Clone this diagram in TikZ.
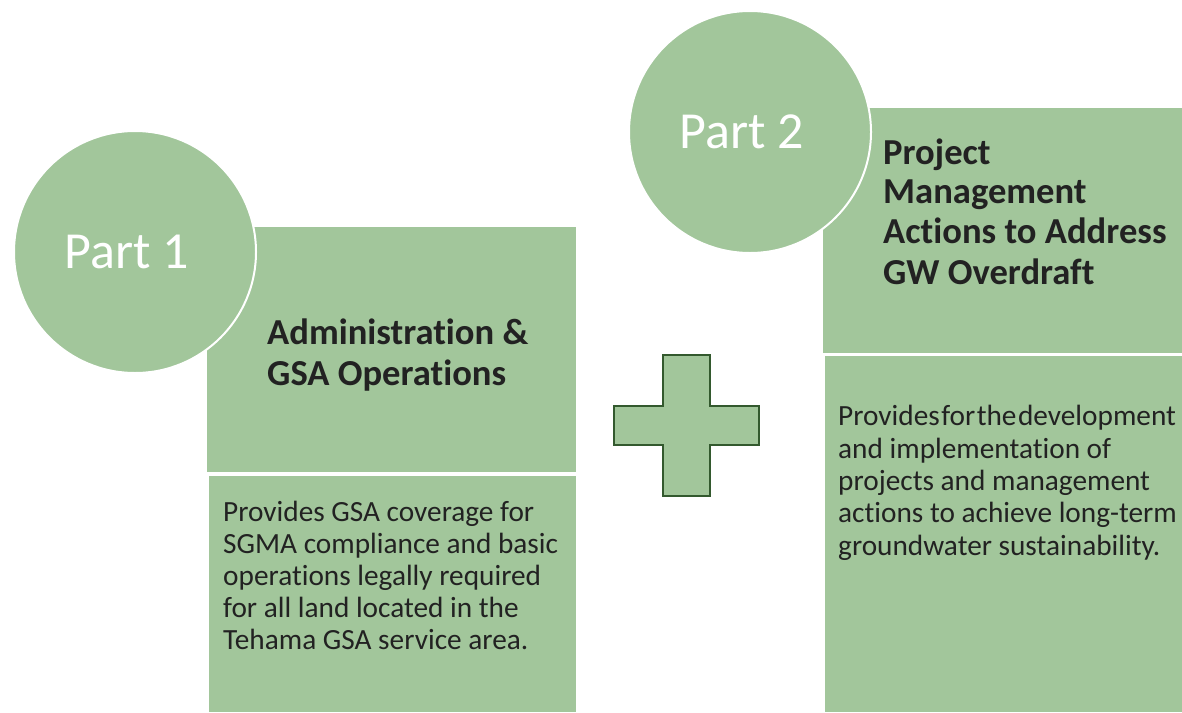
\documentclass[tikz,border=0pt]{standalone}
\usepackage{fontspec}
\setmainfont{Carlito}[Ligatures={NoCommon,NoContextual},Contextuals=NoAlternate]
\definecolor{leaf}{HTML}{A2C69B}
\definecolor{leafdark}{HTML}{33592E}
\definecolor{inktext}{HTML}{222222}
\begin{document}
\begin{tikzpicture}[x=1pt,y=-1pt,
  panel/.style={fill=leaf,draw=none},
  partcircle/.style={circle,fill=leaf,draw=white,line width=2pt,minimum size=242pt,inner sep=0pt},
  partlabel/.style={text=white,inner sep=0pt,font=\fontsize{52}{62}\selectfont},
  headline/.style={anchor=base west,inner sep=0pt,text=inktext,font=\fontsize{36.6}{40}\selectfont\bfseries},
  bodyline/.style={anchor=base west,inner sep=0pt,text=inktext,font=\fontsize{29.3}{32}\selectfont}]
\useasboundingbox (0,0) rectangle (1182,712);
% left panels
\path[panel] (207,227) rectangle (576,472);
\path[panel] (209,476) rectangle (576,712);
% right panels
\path[panel] (823,108) rectangle (1182,353);
\path[panel] (825,356) rectangle (1182,712);
% circles
\node[partcircle] (p1) at (135,252) {};
\node[partlabel] (p1t) at (127,252) {Part 1};
\node[partcircle] (p2) at (750,132) {};
\node[partlabel] (p2t) at (742,132) {Part 2};
% plus
\filldraw[fill=leaf,draw=leafdark,line width=2.5pt,line join=miter]
  (663,355) -- (710,355) -- (710,406) -- (759,406) -- (759,445) -- (710,445)
  -- (710,496) -- (663,496) -- (663,445) -- (614,445) -- (614,406) -- (663,406) -- cycle;
% left texts
\node[headline] (h1a) at (267,344) {Administration \&};
\node[headline] (h1b) at (267,385) {GSA Operations};
\node[bodyline] (b1a) at (223,521) {Provides GSA coverage for};
\node[bodyline] (b1b) at (223,553) {SGMA compliance and basic};
\node[bodyline] (b1c) at (223,585) {operations legally required};
\node[bodyline] (b1d) at (223,617) {for all land located in the};
\node[bodyline] (b1e) at (223,649) {Tehama GSA service area.};
% right texts
\node[headline] (h2a) at (883,164) {Project};
\node[headline] (h2b) at (883,203) {Management};
\node[headline] (h2c) at (883,243) {Actions to Address};
\node[headline] (h2d) at (883,284) {GW Overdraft};
\node[bodyline] (b2a) at (838,425) {\spaceskip=1.5pt plus 1pt Provides for the development};
\node[bodyline] (b2b) at (838,458) {and implementation of};
\node[bodyline] (b2c) at (838,490) {projects and management};
\node[bodyline] (b2d) at (838,522) {actions to achieve long-term};
\node[bodyline] (b2e) at (838,555) {groundwater sustainability.};
\end{tikzpicture}
\end{document}
